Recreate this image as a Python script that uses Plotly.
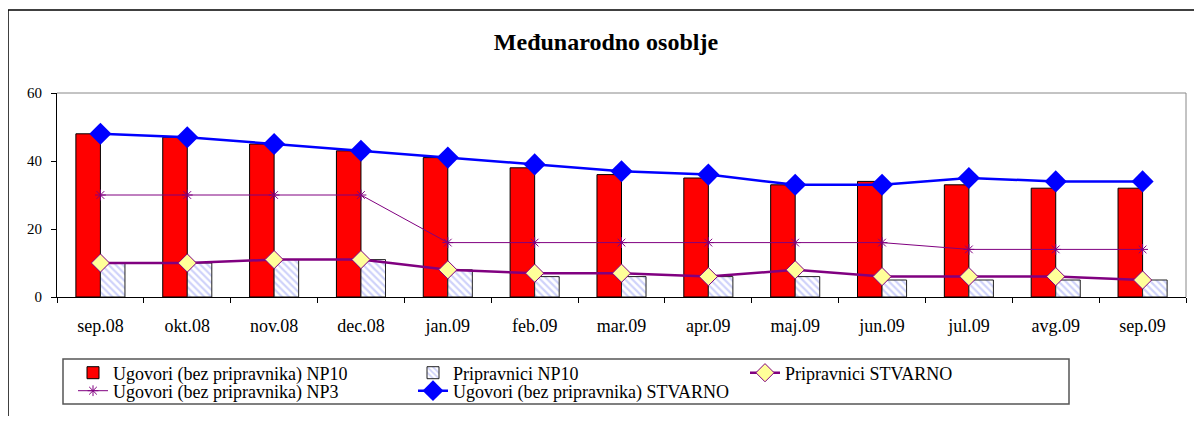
import plotly.graph_objects as go

OFF = 8  # page body margin in the browser
W, H = 1202 - 2 * OFF, 424 - 2 * OFF
# target screen pixels of the plot area
L, R, T, B = 57 - OFF, 1186 - OFF, 93 - OFF, 297 - OFF

months = ["sep.08", "okt.08", "nov.08", "dec.08", "jan.09", "feb.09", "mar.09",
          "apr.09", "maj.09", "jun.09", "jul.09", "avg.09", "sep.09"]
ugovori_np10 = [48, 47, 45, 43, 41, 38, 36, 35, 33, 34, 33, 32, 32]
pripravnici_np10 = [10, 10, 11, 11, 8, 6, 6, 6, 6, 5, 5, 5, 5]
pripravnici_stvarno = [10, 10, 11, 11, 8, 7, 7, 6, 8, 6, 6, 6, 5]
ugovori_np3 = [30, 30, 30, 30, 16, 16, 16, 16, 16, 16, 14, 14, 14]
ugovori_stvarno = [48, 47, 45, 43, 41, 39, 37, 36, 33, 33, 35, 34, 34]

FONT = "Liberation Serif, Times New Roman, serif"

fig = go.Figure()
fig.add_trace(go.Bar(
    x=months, y=ugovori_np10, name="Ugovori (bez pripravnika) NP10",
    marker=dict(color="#FF0000", line=dict(color="#000000", width=1)),
    legend="legend"))
fig.add_trace(go.Bar(
    x=months, y=pripravnici_np10, name="Pripravnici NP10",
    marker=dict(color="#FFFFFF", line=dict(color="#222222", width=1),
                pattern=dict(shape="\\", fgcolor="#9FA6F5", bgcolor="#FFFFFF",
                             size=5, solidity=0.45)),
    legend="legend2"))
fig.add_trace(go.Scatter(
    x=months, y=pripravnici_stvarno, name="Pripravnici STVARNO", mode="lines+markers",
    line=dict(color="#800080", width=2.5),
    marker=dict(symbol="diamond", size=14, color="#FFFF99",
                line=dict(color="#800080", width=1)),
    legend="legend3"))
fig.add_trace(go.Scatter(
    x=months, y=ugovori_np3, name="Ugovori (bez pripravnika) NP3", mode="lines+markers",
    line=dict(color="#800080", width=1),
    marker=dict(symbol="asterisk-open", size=9, color="#800080",
                line=dict(color="#800080", width=1)),
    legend="legend4"))
fig.add_trace(go.Scatter(
    x=months, y=ugovori_stvarno, name="Ugovori (bez pripravnika) STVARNO", mode="lines+markers",
    line=dict(color="#0000FF", width=2.5),
    marker=dict(symbol="diamond", size=17, color="#0000FF"),
    legend="legend5"))

def px2paper_x(px):
    return (px - OFF - L) / (R - L)

def px2paper_y(py):
    return (B - (py - OFF)) / (B - T)

def leg(xpx, ypx):
    return dict(x=(xpx - OFF) / W, y=1 - (ypx - OFF) / H, xref="container", yref="container",
                xanchor="left", yanchor="middle", bgcolor="rgba(0,0,0,0)",
                borderwidth=0, font=dict(family=FONT, size=18, color="#000000"),
                orientation="v")

shapes = [
    # outer chart border
    dict(type="line", xref="paper", yref="paper", x0=px2paper_x(8), x1=px2paper_x(8),
         y0=px2paper_y(440), y1=px2paper_y(10), line=dict(color="#000000", width=1.5)),
    dict(type="line", xref="paper", yref="paper", x0=px2paper_x(8), x1=px2paper_x(1198),
         y0=px2paper_y(10), y1=px2paper_y(10), line=dict(color="#000000", width=1.5)),
    dict(type="line", xref="paper", yref="paper", x0=px2paper_x(1198), x1=px2paper_x(1198),
         y0=px2paper_y(440), y1=px2paper_y(10), line=dict(color="#999999", width=1.5)),
    # plot area border (top/right gray)
    dict(type="line", xref="paper", yref="paper", x0=0, x1=1, y0=1, y1=1,
         line=dict(color="#888888", width=1)),
    dict(type="line", xref="paper", yref="paper", x0=1, x1=1, y0=0, y1=1,
         line=dict(color="#888888", width=1)),
    # legend box
    dict(type="rect", xref="paper", yref="paper", x0=px2paper_x(63), x1=px2paper_x(1069),
         y0=px2paper_y(404), y1=px2paper_y(359), line=dict(color="#555555", width=1.5),
         fillcolor="rgba(0,0,0,0)"),
]

fig.update_layout(
    width=W, height=H,
    margin=dict(l=L, r=W - R, t=T, b=H - B, autoexpand=False),
    paper_bgcolor="#FFFFFF", plot_bgcolor="#FFFFFF",
    font=dict(family=FONT, color="#000000"),
    title=dict(text="<b>Međunarodno osoblje</b>", x=(606 - OFF) / W, xref="container",
               xanchor="center", y=1 - (42 - OFF) / H, yref="container", yanchor="middle",
               font=dict(family=FONT, size=24, color="#000000")),
    barmode="group", bargap=0.435, bargroupgap=0,
    showlegend=True,
    legend=leg(73, 373),
    legend2=leg(413, 373),
    legend3=leg(745, 373),
    legend4=leg(73, 391),
    legend5=leg(413, 391),
    shapes=shapes,
    xaxis=dict(type="category", showline=True, linecolor="#000000", linewidth=1,
               ticks="outside", ticklen=5, tickcolor="#000000", tickson="boundaries",
               showgrid=False, tickfont=dict(family=FONT, size=18, color="#000000"),
               ticklabelstandoff=12, range=[-0.5, 12.5], automargin=False,
               tickangle=0),
    yaxis=dict(range=[0, 60], tickvals=[0, 20, 40, 60], showline=True,
               linecolor="#000000", linewidth=1, ticks="outside", ticklen=5,
               tickcolor="#000000", showgrid=False, zeroline=False,
               tickfont=dict(family=FONT, size=15, color="#000000"),
               ticklabelstandoff=6, automargin=False),
)

fig.write_html("out.html")
